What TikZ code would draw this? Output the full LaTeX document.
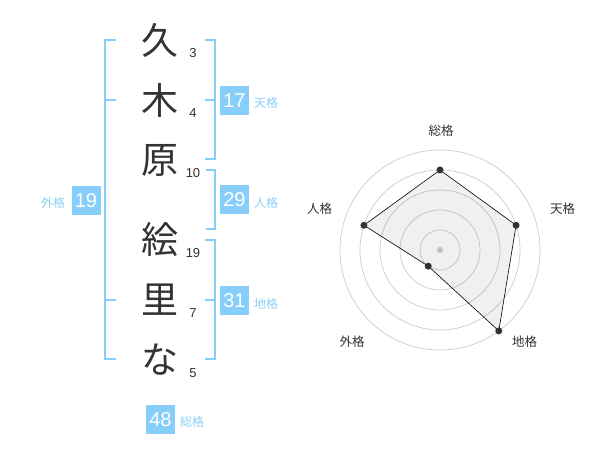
\documentclass[tikz,border=0pt]{standalone}
\usepackage{fontspec}
\setmainfont{Liberation Sans}
\newfontfamily\jpfont{Noto Sans CJK JP}
\definecolor{kakublue}{HTML}{87CEFA}
\definecolor{kakutext}{HTML}{8CCFF7}
\definecolor{inkgray}{HTML}{333333}
\definecolor{ringgray}{HTML}{CCCCCC}

\tikzset{
    kanji/.style={font=\jpfont\fontsize{37}{37}\selectfont, text=inkgray, inner sep=0pt},
    strokenum/.style={font=\fontsize{13}{13}\selectfont, text=inkgray, inner sep=0pt},
    kakubox/.style={fill=kakublue, text=white, minimum width=29pt, minimum height=29pt, inner sep=0pt, font=\fontsize{20}{20}\selectfont},
    kakulabel/.style={font=\jpfont\fontsize{12}{12}\selectfont, text=kakutext, inner sep=0pt},
    bracket/.style={draw=kakublue, line width=2pt},
    ring/.style={draw=ringgray, line width=0.7pt},
    axislabel/.style={font=\jpfont\fontsize{12.5}{12.5}\selectfont, text=inkgray, inner sep=0pt},
    dot/.style={circle, fill=inkgray, inner sep=0pt, minimum size=7pt},
}

\begin{document}
\begin{tikzpicture}[x=1pt, y=-1pt]
    \fill[white] (0, 0) rectangle (600, 470);
    \useasboundingbox (0, 0) rectangle (600, 470);

    % Name and stroke counts
    \foreach \ch/\y/\n [count=\i] in {久/40/3, 木/100/4, 原/160/10, 絵/240/19, 里/300/7, な/360/5} {
            \node[kanji] (Char-\i) at (160, \y) {\ch};
            \node[strokenum] (Stroke-\i) at (193, \y+13) {\n};
        }

    % Brackets
    \draw[bracket] (116, 40) -- (105, 40) -- (105, 359) -- (116, 359);
    \draw[bracket] (105, 100) -- (116, 100);
    \draw[bracket] (105, 300) -- (116, 300);
    \draw[bracket] (205, 40) -- (215, 40) -- (215, 159) -- (205, 159);
    \draw[bracket] (205, 100) -- (215, 100);
    \draw[bracket] (206, 170) -- (215, 170) -- (215, 229) -- (206, 229);
    \draw[bracket] (205, 240) -- (215, 240) -- (215, 359) -- (205, 359);
    \draw[bracket] (205, 300) -- (215, 300);

    % Boxes and labels
    \node[kakubox] (Box-ten) at (234.5, 100.5) {17};
    \node[kakulabel] (Label-ten) at (266, 103) {天格};
    \node[kakubox] (Box-jin) at (234.5, 200) {29};
    \node[kakulabel] (Label-jin) at (266, 203) {人格};
    \node[kakubox] (Box-chi) at (234.5, 300.5) {31};
    \node[kakulabel] (Label-chi) at (266, 304) {地格};
    \node[kakubox] (Box-gai) at (86, 200.5) {19};
    \node[kakulabel] (Label-gai) at (53, 203) {外格};
    \node[kakubox] (Box-sou) at (160.5, 419.5) {48};
    \node[kakulabel] (Label-sou) at (192, 422) {総格};

    % Radar chart
    \begin{scope}[shift={(440, 250)}, yscale=-1]
        \foreach \r in {20, 40, ..., 100} {
                \draw[ring] (0, 0) circle (\r);
            }
        \node[circle, fill=ringgray, inner sep=0pt, minimum size=6pt] (Center) at (0, 0) {};
        \foreach \ang/\r [count=\i] in {90/80, 18/80, -54/100, -126/20, 162/80} {
                \coordinate (Point-\i) at (\ang:\r);
            }
        \filldraw[fill=black, fill opacity=0.06, draw=black, line width=0.6pt]
        (Point-1) -- (Point-2) -- (Point-3) -- (Point-4) -- (Point-5) -- cycle;
        \foreach \i in {1, ..., 5} {
                \node[dot] (Dot-\i) at (Point-\i) {};
            }
        \foreach \name/\lx/\ly [count=\i] in {総格/1/119, 天格/122.5/41.5, 地格/84.5/-91.5, 外格/-88/-91.5, 人格/-120.5/41.5} {
                \node[axislabel] (Axis-\i) at (\lx, \ly) {\name};
            }
    \end{scope}
\end{tikzpicture}
\end{document}
